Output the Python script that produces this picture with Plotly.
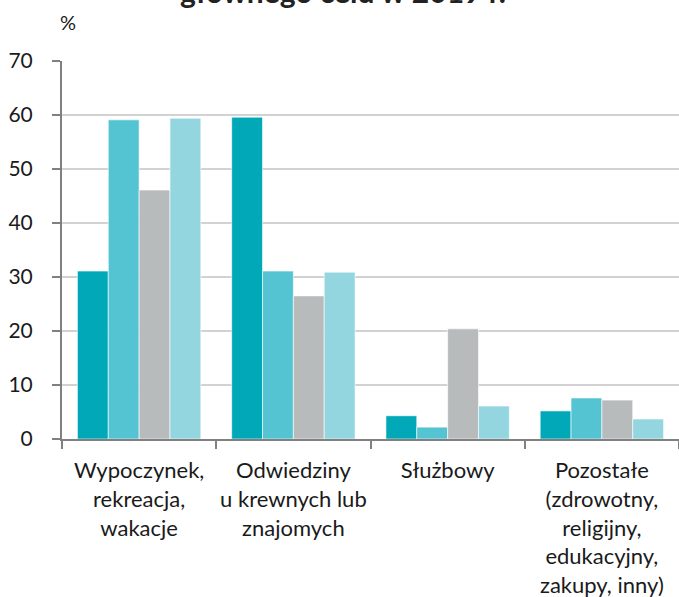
import plotly.graph_objects as go

categories = [
    "Wypoczynek,<br>rekreacja,<br>wakacje",
    "Odwiedziny<br>u krewnych lub<br>znajomych",
    "Służbowy",
    "Pozostałe<br>(zdrowotny,<br>religijny,<br>edukacyjny,<br>zakupy, inny)",
]
series_a = [31.1, 59.6, 4.3, 5.2]
series_b = [59.1, 31.1, 2.2, 7.6]
series_c = [46.1, 26.5, 20.4, 7.2]
series_d = [59.4, 30.9, 6.1, 3.7]
y_ticks = [0, 10, 20, 30, 40, 50, 60, 70]

colors = ["#00a8b8", "#55c4d2", "#b8bbbc", "#93d6e0"]
FONT = "Lato"

fig = go.Figure()
for vals, col in zip([series_a, series_b, series_c, series_d], colors):
    fig.add_trace(go.Bar(
        x=categories, y=vals,
        marker=dict(color=col, line=dict(color="rgba(255,255,255,0.6)", width=1)),
        showlegend=False,
    ))

fig.update_layout(
    width=679, height=597,
    margin=dict(l=62, r=0, t=61, b=158, autoexpand=False),
    paper_bgcolor="white", plot_bgcolor="white",
    barmode="group", bargap=0.2, bargroupgap=0,
    font=dict(family=FONT, size=21, color="#1a1a1a"),
    xaxis=dict(
        type="category", tickson="boundaries", ticks="outside", ticklen=8,
        tickcolor="#808080", tickwidth=2, automargin=False, tickangle=0,
        showline=True, linecolor="#808080", linewidth=2,
        showgrid=False, tickfont=dict(size=22, family=FONT, color="#1a1a1a"),
        ticklabelstandoff=11,
        range=[-0.5, 3.5],
    ),
    yaxis=dict(
        range=[0, 70], tickvals=y_ticks, ticks="outside", ticklen=8,
        tickcolor="#808080", tickwidth=2, automargin=False,
        showline=True, linecolor="#808080", linewidth=2,
        showgrid=True, gridcolor="#d2d2d2", gridwidth=2,
        zeroline=False, tickfont=dict(size=21, family=FONT, color="#1a1a1a"),
        ticklabelstandoff=15,
    ),
    annotations=[
        dict(text="%", xref="paper", yref="paper", x=0.0, y=1.0, yshift=39,
             xshift=6, xanchor="center", yanchor="middle", showarrow=False,
             font=dict(size=20, family=FONT, color="#1a1a1a")),
        dict(text="<b>głównego celu w 2019 r.</b>", xref="paper", yref="paper",
             x=0.455, y=1.0, yshift=70, xanchor="center", yanchor="middle",
             showarrow=False, font=dict(size=30, family=FONT, color="#222222")),
    ],
)

fig.write_html("out.html", config={"displayModeBar": False},
               post_script="document.body.style.margin='0';")
